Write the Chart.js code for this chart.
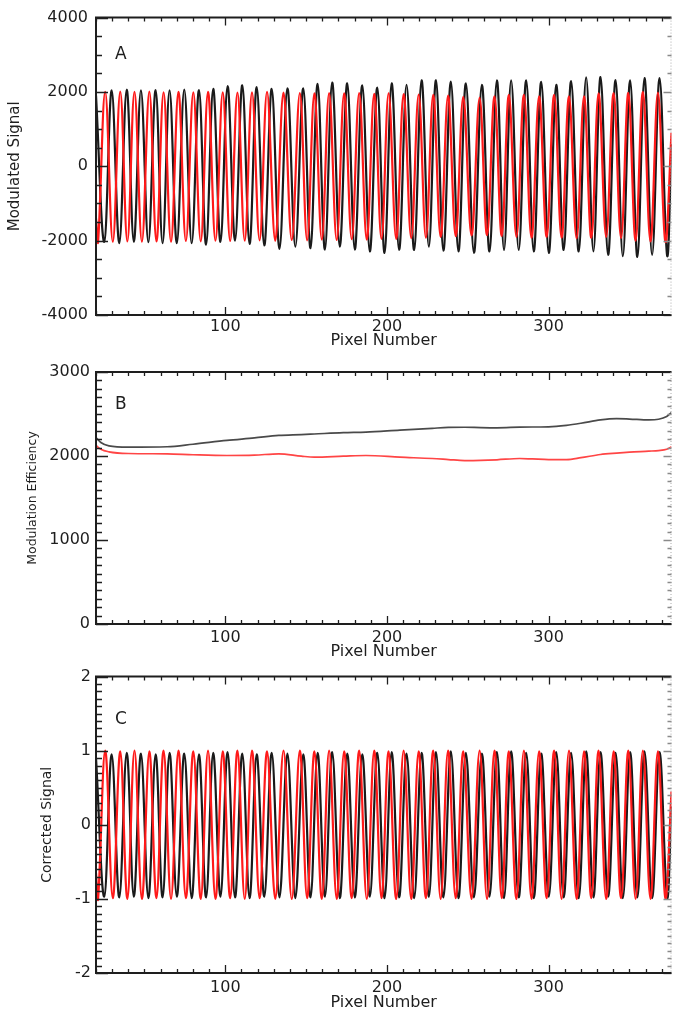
<!DOCTYPE html>
<html>
<head>
<meta charset="utf-8">
<script src="https://cdn.jsdelivr.net/npm/chart.js@4.4.1/dist/chart.umd.min.js"></script>
<style>
  body { margin: 0; background: #fff; }
  #wrap { position: relative; width: 673px; height: 1013px; }
  canvas { position: absolute; left: 0; }
</style>
</head>
<body>
<div id="wrap">
  <canvas id="chartA" width="673" height="352" style="top:0"></canvas>
  <canvas id="chartB" width="673" height="310" style="top:352px"></canvas>
  <canvas id="chartC" width="673" height="351" style="top:662px"></canvas>
</div>
<script>
// pixel range shown on every panel
const edgeX = [20, 376];

// turning points of the black trace (pixel number)
const blackPeakX = [29.7, 39.0, 47.8, 56.9, 65.5, 74.6, 83.7, 92.5, 101.4, 110.5,
  119.4, 128.7, 138.4, 148.2, 157.1, 166.1, 175.4, 184.7, 194.0, 202.9,
  212.1, 221.4, 230.3, 239.5, 248.8, 258.7, 268.0, 276.8, 286.1, 295.4,
  304.7, 313.9, 323.2, 332.1, 341.4, 350.4, 359.3, 368.6];
const blackTroughX = [25.1, 34.4, 43.4, 52.4, 61.2, 70.0, 79.2, 88.1, 97.0, 106.0,
  115.0, 124.1, 133.5, 143.3, 152.7, 161.6, 170.8, 180.1, 189.4, 198.5,
  207.5, 216.8, 225.9, 234.9, 244.2, 253.8, 263.4, 272.4, 281.5, 290.8,
  300.1, 309.3, 318.6, 327.7, 336.8, 345.9, 354.9, 364.0, 373.3];

// turning points of the red trace
const redPeakX = [25.7, 35.0, 43.8, 53.0, 61.8, 71.0, 80.2, 89.3, 98.4, 107.5,
  116.5, 125.8, 136.0, 146.1, 155.1, 164.2, 173.5, 182.8, 192.1, 201.0,
  210.3, 219.6, 228.6, 237.8, 247.2, 257.3, 266.5, 275.4, 284.7, 294.1,
  303.4, 312.6, 321.9, 330.9, 340.2, 349.3, 358.3, 367.6];
const redTroughX = [21.3, 30.4, 39.4, 48.4, 57.4, 66.4, 75.6, 84.8, 93.9, 103.0,
  112.0, 121.2, 130.9, 141.1, 150.6, 159.7, 168.9, 178.2, 187.5, 196.6,
  205.7, 215.0, 224.1, 233.2, 242.5, 252.3, 261.9, 271.0, 280.1, 289.4,
  298.8, 308.0, 317.3, 326.4, 335.6, 344.8, 353.8, 363.0, 372.2];

// panel A - modulated signal
const blackPeakA = [2040, 2060, 2040, 2050, 2040, 2060, 2050, 2080, 2160, 2180,
  2130, 2080, 2100, 2100, 2220, 2250, 2230, 2180, 2120, 2230,
  2190, 2310, 2310, 2280, 2230, 2190, 2310, 2310, 2310, 2270,
  2190, 2290, 2390, 2400, 2320, 2310, 2370, 2370];
const blackTroughA = [-2030, -2070, -2030, -2040, -2070, -2070, -2070, -2110, -2030, -2000,
  -2090, -2130, -2220, -2160, -2200, -2240, -2160, -2240, -2290, -2330,
  -2250, -2250, -2160, -2270, -2290, -2330, -2290, -2250, -2250, -2290,
  -2330, -2250, -2290, -2290, -2380, -2420, -2440, -2380, -2400];
const redPeakA = [2000, 2010, 2000, 2010, 1990, 2000, 1990, 2000, 1990, 1980,
  1990, 2000, 1980, 1970, 1960, 1970, 1960, 1970, 1950, 1960,
  1940, 1930, 1920, 1900, 1870, 1840, 1880, 1920, 1920, 1880,
  1920, 1880, 1880, 1960, 1970, 1970, 2000, 1980];
const redTroughA = [-2030, -2030, -2020, -2030, -2020, -2030, -2010, -2020, -2000, -2010,
  -2000, -1990, -2000, -1980, -1990, -1970, -1980, -1960, -1970, -1950,
  -1950, -1930, -1920, -1900, -1880, -1860, -1850, -1870, -1900, -1920,
  -1900, -1920, -1940, -1920, -1900, -1930, -2000, -2020, -2030];
const blackEdgeA = [1900, 600];
const redEdgeA = [-1400, 900];

// panel B - modulation efficiency
const effX = [20, 23, 28, 40, 64, 80, 101, 118, 133, 147, 155, 173, 187, 208, 228, 238,
  248, 258, 268, 282, 290, 300, 311, 320, 332, 342, 350, 362, 368, 373, 376];
const blackEff = [2220, 2160, 2120, 2105, 2110, 2140, 2185, 2215, 2245, 2255, 2262, 2278, 2285, 2309, 2330, 2340,
  2342, 2338, 2336, 2343, 2345, 2347, 2365, 2390, 2430, 2445, 2440, 2429, 2437, 2470, 2517];
const redEff = [2126, 2080, 2050, 2030, 2026, 2015, 2006, 2010, 2026, 1998, 1986, 1998, 2006, 1986, 1970, 1958,
  1946, 1948, 1955, 1970, 1965, 1958, 1958, 1980, 2018, 2035, 2046, 2058, 2065, 2080, 2110];

// panel C - corrected signal
const blackPeakC = [0.95, 0.97, 0.96, 0.95, 0.97, 0.96, 0.95, 0.97, 0.98, 0.96,
  0.95, 0.97, 0.96, 0.95, 0.97, 0.98, 0.96, 0.95, 0.97, 0.98,
  0.96, 0.97, 0.98, 0.99, 0.97, 0.96, 0.98, 0.99, 0.97, 0.96,
  0.98, 0.97, 0.99, 0.98, 0.97, 0.98, 0.99, 0.98];
const blackTroughC = [-0.97, -0.98, -0.97, -0.99, -0.98, -0.97, -0.99, -0.98, -0.97, -0.98,
  -0.99, -0.97, -0.98, -0.99, -0.98, -0.97, -0.99, -0.98, -0.97, -0.99,
  -0.98, -0.99, -0.97, -0.98, -0.99, -0.98, -0.97, -0.99, -0.98, -0.99,
  -0.97, -0.98, -0.99, -0.98, -0.97, -0.99, -0.98, -0.99, -0.98];
const redPeakC = [1.0, 0.99, 1.0, 0.99, 1.0, 1.0, 0.99, 1.0, 0.99, 1.0,
  1.0, 0.99, 1.0, 1.0, 0.99, 1.0, 0.99, 1.0, 1.0, 0.99,
  1.0, 0.99, 1.0, 1.0, 0.99, 1.0, 1.0, 0.99, 1.0, 0.99,
  1.0, 1.0, 0.99, 1.0, 0.99, 1.0, 1.0, 0.99];
const redTroughC = [-1.0, -0.99, -1.0, -1.0, -0.99, -1.0, -0.99, -1.0, -1.0, -0.99,
  -1.0, -0.99, -1.0, -1.0, -0.99, -1.0, -1.0, -0.99, -1.0, -0.99,
  -1.0, -1.0, -0.99, -1.0, -0.99, -1.0, -1.0, -0.99, -1.0, -1.0,
  -0.99, -1.0, -1.0, -0.99, -1.0, -0.99, -1.0, -1.0, -0.99];
const blackEdgeC = [0.9, 0.25];
const redEdgeC = [-0.65, 0.45];

const FONT = 'DejaVu Sans';
const INK = '#1e1e1e';

// merge peaks, troughs and the two end points into one sorted trace
const trace = (peakX, peakY, troughX, troughY, edgeY) => {
  const pts = edgeX.map((x, i) => ({ x, y: edgeY[i] }));
  peakX.forEach((x, i) => pts.push({ x, y: peakY[i] }));
  troughX.forEach((x, i) => pts.push({ x, y: troughY[i] }));
  return pts.sort((a, b) => a.x - b.x);
};

const isMajor = (v, step) => Math.abs(v / step - Math.round(v / step)) < 1e-6;

// IDL style frame: inward ticks on all four sides, letter in the corner
const idlFrame = {
  id: 'idlFrame',
  afterDatasetsDraw(chart, args, opts) {
    const { ctx, chartArea: a, scales: { x, y } } = chart;
    ctx.save();
    ctx.lineWidth = 1.3;
    ctx.strokeStyle = INK;
    ctx.beginPath();
    x.ticks.forEach(t => {
      const px = Math.round(x.getPixelForValue(t.value)) + 0.5;
      const len = isMajor(t.value, opts.majorX) ? 8 : 4;
      ctx.moveTo(px, a.bottom); ctx.lineTo(px, a.bottom - len);
      ctx.moveTo(px, a.top); ctx.lineTo(px, a.top + len);
    });
    y.ticks.forEach(t => {
      const py = Math.round(y.getPixelForValue(t.value)) + 0.5;
      const len = isMajor(t.value, opts.majorY) ? 12 : 6;
      ctx.moveTo(a.left, py); ctx.lineTo(a.left + len, py);
    });
    ctx.stroke();

    ctx.strokeStyle = '#8a8a8a';
    ctx.beginPath();
    y.ticks.forEach(t => {
      const py = Math.round(y.getPixelForValue(t.value)) + 0.5;
      const len = isMajor(t.value, opts.majorY) ? 8 : 4;
      ctx.moveTo(a.right, py); ctx.lineTo(a.right - len, py);
    });
    ctx.stroke();

    ctx.lineWidth = 2;
    ctx.strokeStyle = INK;
    ctx.beginPath();
    ctx.moveTo(a.right, a.top);
    ctx.lineTo(a.left, a.top);
    ctx.lineTo(a.left, a.bottom);
    ctx.lineTo(a.right, a.bottom);
    ctx.stroke();

    ctx.lineWidth = 1;
    ctx.strokeStyle = '#aaa';
    ctx.setLineDash([1, 2]);
    ctx.beginPath();
    ctx.moveTo(a.right - 0.5, a.top);
    ctx.lineTo(a.right - 0.5, a.bottom);
    ctx.stroke();
    ctx.setLineDash([]);

    ctx.fillStyle = INK;
    ctx.font = '17px "' + FONT + '"';
    ctx.fillText(opts.letter, a.left + 19, a.top + opts.letterDy);
    ctx.restore();
  }
};

const lineSet = (data, color, width, order, smooth) => ({
  data: data,
  borderColor: color,
  borderWidth: width,
  pointRadius: 0,
  tension: 0.38,
  cubicInterpolationMode: smooth,
  order: order
});

const makePanel = (id, cfg) => new Chart(document.getElementById(id), {
  type: 'line',
  data: { datasets: cfg.datasets },
  options: {
    responsive: false,
    animation: false,
    events: [],
    layout: { padding: { top: cfg.top, right: 1.5, left: 0, bottom: 0 } },
    plugins: {
      legend: { display: false },
      tooltip: { enabled: false },
      idlFrame: { majorX: 100, majorY: cfg.majorY, letter: cfg.letter, letterDy: cfg.letterDy }
    },
    scales: {
      x: {
        type: 'linear',
        min: edgeX[0],
        max: edgeX[1],
        grid: { display: false, drawTicks: false },
        border: { display: false },
        ticks: {
          stepSize: 10,
          autoSkip: false,
          maxRotation: 0,
          includeBounds: false,
          padding: cfg.xPad,
          color: INK,
          font: { family: FONT, size: 16 },
          callback: v => isMajor(v, 100) ? String(v) : ''
        },
        title: {
          display: true,
          text: 'Pixel Number',
          color: INK,
          font: { family: FONT, size: 16 },
          padding: { top: 0, bottom: cfg.xTitlePad }
        },
        afterFit: s => { s.height = cfg.xHeight; }
      },
      y: {
        min: cfg.yMin,
        max: cfg.yMax,
        grid: { display: false, drawTicks: false },
        border: { display: false },
        ticks: {
          stepSize: cfg.yStep,
          autoSkip: false,
          includeBounds: false,
          padding: cfg.yPad,
          color: INK,
          font: { family: FONT, size: 16 },
          callback: v => isMajor(v, cfg.majorY) ? String(Math.round(v)) : ''
        },
        title: {
          display: true,
          text: cfg.yTitle,
          color: INK,
          font: { family: FONT, size: cfg.yTitleSize },
          padding: { top: cfg.yTitlePad, bottom: 0 }
        },
        afterFit: s => { s.width = 96; }
      }
    }
  },
  plugins: [idlFrame]
});

makePanel('chartA', {
  datasets: [
    lineSet(trace(blackPeakX, blackPeakA, blackTroughX, blackTroughA, blackEdgeA), '#1a1a1a', 2.2, 2, 'default'),
    lineSet(trace(redPeakX, redPeakA, redTroughX, redTroughA, redEdgeA), '#ff1a1a', 2.2, 1, 'default')
  ],
  top: 11, xHeight: 37, xPad: 2, xTitlePad: 1.4,
  yMin: -4000, yMax: 4000, yStep: 500, majorY: 2000, yPad: 8,
  yTitle: 'Modulated Signal', yTitleSize: 15, yTitlePad: 6,
  letter: 'A', letterDy: 41
});

makePanel('chartB', {
  datasets: [
    lineSet(effX.map((x, i) => ({ x, y: blackEff[i] })), '#4a4a4a', 1.7, 2, 'monotone'),
    lineSet(effX.map((x, i) => ({ x, y: redEff[i] })), '#ff4545', 1.7, 1, 'monotone')
  ],
  top: 20, xHeight: 38, xPad: 4.4, xTitlePad: 0.4,
  yMin: 0, yMax: 3000, yStep: 100, majorY: 1000, yPad: 6,
  yTitle: 'Modulation Efficiency', yTitleSize: 12.5, yTitlePad: 25,
  letter: 'B', letterDy: 37
});

makePanel('chartC', {
  datasets: [
    lineSet(trace(blackPeakX, blackPeakC, blackTroughX, blackTroughC, blackEdgeC), '#1a1a1a', 2.2, 2, 'default'),
    lineSet(trace(redPeakX, redPeakC, redTroughX, redTroughC, redEdgeC), '#ff1a1a', 2.2, 1, 'default')
  ],
  top: 11, xHeight: 40, xPad: 5.4, xTitlePad: 0.4,
  yMin: -2, yMax: 2, yStep: 0.1, majorY: 1, yPad: 5,
  yTitle: 'Corrected Signal', yTitleSize: 14, yTitlePad: 39,
  letter: 'C', letterDy: 47
});
</script>
</body>
</html>
